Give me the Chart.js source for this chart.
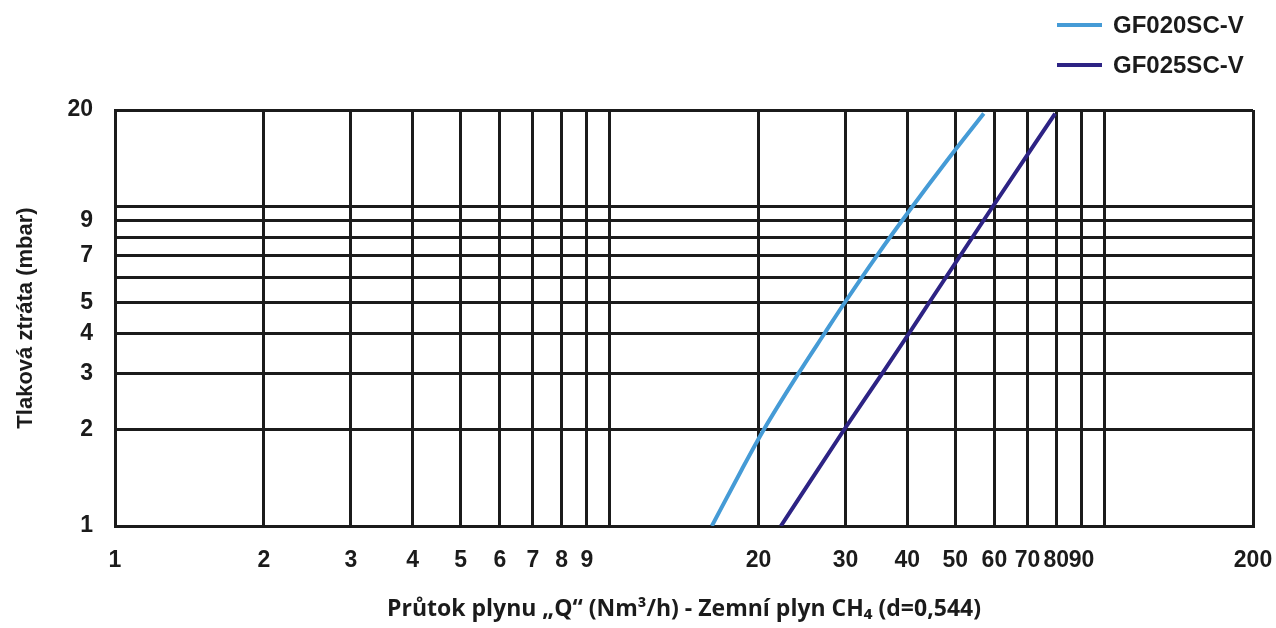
<!DOCTYPE html>
<html>
<head>
<meta charset="utf-8">
<script src="https://cdn.jsdelivr.net/npm/chart.js@4.4.1/dist/chart.umd.min.js"></script>
<style>
    html, body { margin: 0; padding: 0; background: #fff; overflow: hidden; }
    #wrap { width: 1276px; height: 628px; position: relative; }
</style>
</head>
<body>
<div id="wrap"><canvas id="lossChart"></canvas></div>
<script>
// series (x = flow Nm3/h, y = pressure loss mbar)
const gf020Flow = [16.1, 18.5, 20.5, 24.1, 27.2, 29.9, 34.7, 41.0, 48.3, 57.1];
const gf020Loss = [1, 1.5, 2, 3, 4, 5, 7, 10, 14, 19.5];
const gf025Flow = [22.2, 29.8, 35.6, 40.3, 44.3, 59.6, 79.6];
const gf025Loss = [1, 2, 3, 4, 5, 10, 19.5];

const seriesLabels = ["GF020SC-V", "GF025SC-V"];

const xTickValues = [1, 2, 3, 4, 5, 6, 7, 8, 9, 10, 20, 30, 40, 50, 60, 70, 80, 90, 100, 200];
const xTickLabels = ["1", "2", "3", "4", "5", "6", "7", "8", "9", "", "20", "30", "40", "50", "60", "70", "80", "90", "", "200"];
const yTickValues = [1, 2, 3, 4, 5, 6, 7, 8, 9, 10, 20];
const yTickLabels = ["1", "2", "3", "4", "5", "", "7", "", "9", "", "20"];

const toPoints = (xs, ys) => xs.map((x, i) => ({ x: x, y: ys[i] }));

const ink = "#1b1b1b";
const tickFont = { family: "'Liberation Sans', Arial, sans-serif", size: 23, weight: "bold" };

// legend sits above the plot, stacked, so it's drawn by hand
const stackedLegend = {
    id: "stackedLegend",
    afterDraw(chart) {
        const ctx = chart.ctx;
        ctx.save();
        chart.data.datasets.forEach((ds, i) => {
            const y = 25 + i * 40;
            ctx.strokeStyle = ds.borderColor;
            ctx.lineWidth = 4;
            ctx.beginPath();
            ctx.moveTo(1057, y);
            ctx.lineTo(1102, y);
            ctx.stroke();
            ctx.fillStyle = ink;
            ctx.font = "bold 24px 'Liberation Sans', Arial, sans-serif";
            ctx.textBaseline = "middle";
            ctx.fillText(ds.label, 1113, y + 1.5);
        });
        ctx.restore();
    }
};

new Chart(document.getElementById("lossChart"), {
    type: "line",
    data: {
        datasets: [
            {
                label: seriesLabels[0],
                data: toPoints(gf020Flow, gf020Loss),
                borderColor: "#459bd6",
                borderWidth: 4,
                pointRadius: 0,
                cubicInterpolationMode: "monotone",
                fill: false
            },
            {
                label: seriesLabels[1],
                data: toPoints(gf025Flow, gf025Loss),
                borderColor: "#2d2384",
                borderWidth: 4,
                pointRadius: 0,
                cubicInterpolationMode: "monotone",
                fill: false
            }
        ]
    },
    options: {
        responsive: true,
        maintainAspectRatio: false,
        animation: false,
        layout: { padding: { top: 110, right: 23, left: 0, bottom: 0 } },
        plugins: {
            legend: { display: false },
            tooltip: { enabled: false }
        },
        scales: {
            x: {
                type: "logarithmic",
                min: 1,
                max: 200,
                afterBuildTicks: (scale) => {
                    scale.ticks = xTickValues.map(v => ({ value: v }));
                },
                afterFit: (scale) => {
                    scale.height = 102;
                    scale.paddingLeft = 0;
                    scale.paddingRight = 0;
                },
                ticks: {
                    autoSkip: false,
                    maxRotation: 0,
                    padding: 21,
                    color: ink,
                    font: tickFont,
                    callback: (value, index) => xTickLabels[index]
                },
                grid: { color: ink, lineWidth: 3, drawTicks: false },
                border: { color: ink, width: 3 },
                title: {
                    display: true,
                    text: "Průtok plynu „Q“ (Nm³/h) - Zemní plyn CH₄ (d=0,544)",
                    color: ink,
                    font: { family: "'Open Sans', sans-serif", size: 23, weight: "bold" },
                    padding: { top: 0, bottom: 5 }
                }
            },
            y: {
                type: "logarithmic",
                min: 1,
                max: 20,
                afterBuildTicks: (scale) => {
                    scale.ticks = yTickValues.map(v => ({ value: v }));
                },
                afterFit: (scale) => {
                    scale.width = 115;
                    scale.paddingTop = 0;
                    scale.paddingBottom = 0;
                },
                ticks: {
                    autoSkip: false,
                    padding: 22,
                    color: ink,
                    font: tickFont,
                    callback: (value, index) => yTickLabels[index]
                },
                grid: { color: ink, lineWidth: 3, drawTicks: false },
                border: { color: ink, width: 3 },
                title: {
                    display: true,
                    text: "Tlaková ztráta (mbar)",
                    color: ink,
                    font: { family: "'Liberation Sans', Arial, sans-serif", size: 22, weight: "bold" },
                    padding: { top: 13, bottom: 0 }
                }
            }
        }
    },
    plugins: [stackedLegend]
});
</script>
</body>
</html>
